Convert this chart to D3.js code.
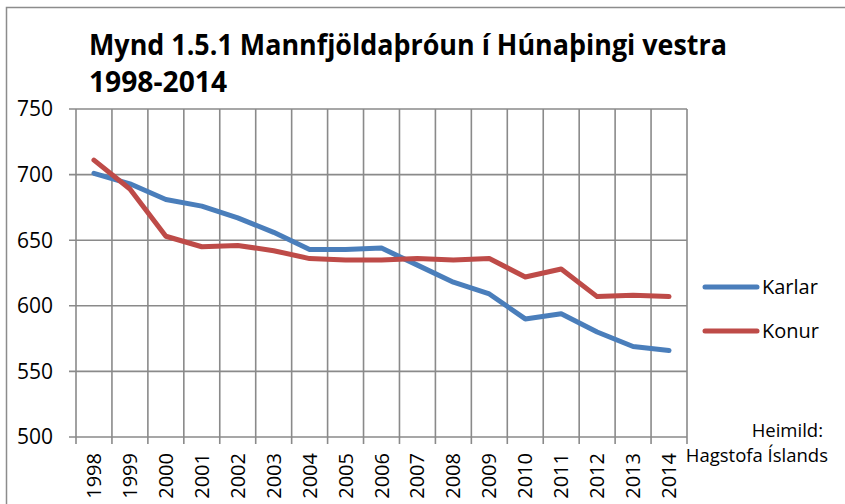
<!DOCTYPE html>
<meta charset="utf-8">
<html>
<head>
<script src="https://cdn.jsdelivr.net/npm/d3@7"></script>
<style>
body { margin: 0; background: white; }
text { font-family: "Open Sans", "Noto Sans", sans-serif; fill: black; }
</style>
</head>
<body>
<script>

// data ----------------------------------------------------------------------
var years  = ["1998","1999","2000","2001","2002","2003","2004","2005","2006",
              "2007","2008","2009","2010","2011","2012","2013","2014"];
var karlar = [701, 693, 681, 676, 667, 656, 643, 643, 644, 631, 618, 609, 590, 594, 580, 569, 566];
var konur  = [711, 689, 653, 645, 646, 642, 636, 635, 635, 636, 635, 636, 622, 628, 607, 608, 607];
var yTicks = [500, 550, 600, 650, 700, 750];

var series = [
  { name: "Karlar", values: karlar, color: "#4a7ebb" },
  { name: "Konur",  values: konur,  color: "#be4b48" }
];

var W = 845, H = 504;
var svg = d3.select("body").append("svg")
  .attr("width", W)
  .attr("height", H);

// outer chart border (right/bottom fall outside the picture)
svg.append("rect")
  .attr("x", 6.5).attr("y", 7.5)
  .attr("width", W).attr("height", H)
  .style("fill", "none")
  .style("stroke", "#8c8c8c")
  .style("stroke-width", 1.5);

var x = d3.scaleBand().domain(years).range([76, 687]);
var y = d3.scaleLinear().domain([500, 750]).range([437, 109]);

// gridlines
var grid = svg.append("g");
grid.selectAll(".hgrid")
  .data(yTicks).enter().append("line")
  .attr("x1", 69).attr("x2", 687)
  .attr("y1", function(d) { return y(d); })
  .attr("y2", function(d) { return y(d); })
  .style("stroke", "#8a8a8a").style("stroke-width", 1.6);

var vlines = years.map(function(d) { return x(d); }).concat([x.range()[1]]);
grid.selectAll(".vgrid")
  .data(vlines).enter().append("line")
  .attr("x1", function(d) { return d; })
  .attr("x2", function(d) { return d; })
  .attr("y1", 109).attr("y2", 444)
  .style("stroke", "#8a8a8a").style("stroke-width", 1.6);

// y labels
svg.selectAll(".ylab")
  .data(yTicks).enter().append("text")
  .attr("x", 53)
  .attr("y", function(d) { return y(d); })
  .attr("dy", "0.35em")
  .attr("text-anchor", "end")
  .style("font-size", "21px")
  .text(function(d) { return d; });

// x labels, rotated
svg.selectAll(".xlab")
  .data(years).enter().append("text")
  .attr("transform", function(d) {
    return "translate(" + (x(d) + x.bandwidth() / 2) + ",453) rotate(-90)";
  })
  .attr("dy", "0.35em")
  .attr("text-anchor", "end")
  .style("font-size", "20px")
  .text(function(d) { return d; });

// lines
var line = d3.line()
  .x(function(d, i) { return x(years[i]) + x.bandwidth() / 2; })
  .y(function(d) { return y(d); });

svg.selectAll(".series")
  .data(series).enter().append("path")
  .attr("d", function(d) { return line(d.values); })
  .style("fill", "none")
  .style("stroke", function(d) { return d.color; })
  .style("stroke-width", 5)
  .style("stroke-linejoin", "round")
  .style("stroke-linecap", "round");

// legend
var leg = svg.selectAll(".leg")
  .data(series).enter().append("g")
  .attr("transform", function(d, i) { return "translate(0," + (287 + i * 44) + ")"; });
leg.append("line")
  .attr("x1", 705).attr("x2", 757)
  .attr("y1", 0).attr("y2", 0)
  .style("stroke", function(d) { return d.color; })
  .style("stroke-width", 5)
  .style("stroke-linecap", "round");
leg.append("text")
  .attr("x", 762).attr("y", 0).attr("dy", "0.35em")
  .style("font-size", "20px")
  .text(function(d) { return d.name; });

// title
svg.append("text")
  .attr("x", 89).attr("y", 55)
  .attr("textLength", 638).attr("lengthAdjust", "spacingAndGlyphs")
  .style("font-size", "28px").style("font-weight", "bold")
  .text("Mynd 1.5.1 Mannfjöldaþróun í Húnaþingi vestra");
svg.append("text")
  .attr("x", 89).attr("y", 92)
  .attr("textLength", 138).attr("lengthAdjust", "spacingAndGlyphs")
  .style("font-size", "28px").style("font-weight", "bold")
  .text("1998-2014");

// source
svg.append("text")
  .attr("x", 823).attr("y", 437)
  .attr("text-anchor", "end")
  .style("font-size", "18.5px")
  .text("Heimild:");
svg.append("text")
  .attr("x", 828).attr("y", 462)
  .attr("text-anchor", "end")
  .style("font-size", "18.5px")
  .text("Hagstofa Íslands");
</script>
</body>
</html>
